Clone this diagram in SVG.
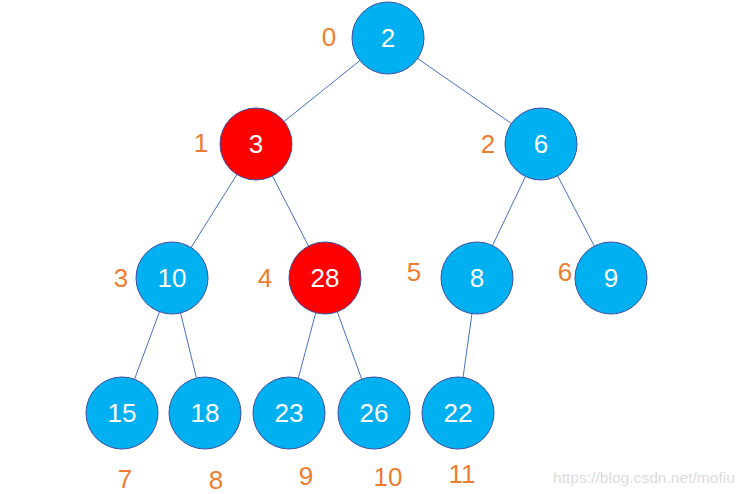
<svg xmlns="http://www.w3.org/2000/svg" width="744" height="494" viewBox="0 0 744 494">
<style>
.edge{stroke:#4472C4;stroke-width:1;fill:none}
.n circle{fill:#00B0F0;stroke:#3F4FA0;stroke-width:1}
.n.red circle{fill:#FF0000}
.n text{fill:#FFFFFF;font-family:"Liberation Sans",Arial,sans-serif;font-size:26px;text-anchor:middle}
.idx{fill:#ED7D31;font-family:"Liberation Sans",Arial,sans-serif;font-size:26px;text-anchor:middle}
.wm{fill:#DCDCDC;font-family:"Liberation Sans",Arial,sans-serif;font-size:15px}
</style>
<rect width="744" height="494" fill="#FFFFFF"/>
<g id="connectors">
<line class="edge" x1="388" y1="38" x2="256" y2="144"/>
<line class="edge" x1="388" y1="38" x2="541" y2="144"/>
<line class="edge" x1="256" y1="144" x2="172" y2="278"/>
<line class="edge" x1="256" y1="144" x2="325" y2="278"/>
<line class="edge" x1="541" y1="144" x2="477" y2="278"/>
<line class="edge" x1="541" y1="144" x2="611" y2="278"/>
<line class="edge" x1="172" y1="278" x2="122" y2="413"/>
<line class="edge" x1="172" y1="278" x2="205" y2="413"/>
<line class="edge" x1="325" y1="278" x2="289" y2="413"/>
<line class="edge" x1="325" y1="278" x2="374" y2="413"/>
<line class="edge" x1="477" y1="278" x2="458" y2="413"/>
</g>
<g id="node0" class="n"><circle cx="388" cy="38" r="36"/><text x="388" y="47">2</text></g>
<g id="node1" class="n red"><circle cx="256" cy="144" r="36"/><text x="256" y="153">3</text></g>
<g id="node2" class="n"><circle cx="541" cy="144" r="36"/><text x="541" y="153">6</text></g>
<g id="node3" class="n"><circle cx="172" cy="278" r="36"/><text x="172" y="287">10</text></g>
<g id="node4" class="n red"><circle cx="325" cy="278" r="36"/><text x="325" y="287">28</text></g>
<g id="node5" class="n"><circle cx="477" cy="278" r="36"/><text x="477" y="287">8</text></g>
<g id="node6" class="n"><circle cx="611" cy="278" r="36"/><text x="611" y="287">9</text></g>
<g id="node7" class="n"><circle cx="122" cy="413" r="36"/><text x="122" y="422">15</text></g>
<g id="node8" class="n"><circle cx="205" cy="413" r="36"/><text x="205" y="422">18</text></g>
<g id="node9" class="n"><circle cx="289" cy="413" r="36"/><text x="289" y="422">23</text></g>
<g id="node10" class="n"><circle cx="374" cy="413" r="36"/><text x="374" y="422">26</text></g>
<g id="node11" class="n"><circle cx="458" cy="413" r="36"/><text x="458" y="422">22</text></g>
<g id="indices">
<text class="idx" x="329" y="46">0</text>
<text class="idx" x="201" y="152">1</text>
<text class="idx" x="488" y="153">2</text>
<text class="idx" x="121" y="287">3</text>
<text class="idx" x="265" y="287">4</text>
<text class="idx" x="414" y="281">5</text>
<text class="idx" x="565" y="281">6</text>
<text class="idx" x="125" y="488">7</text>
<text class="idx" x="216" y="489">8</text>
<text class="idx" x="306" y="485">9</text>
<text class="idx" x="388" y="486">10</text>
<text class="idx" x="462" y="483">11</text>
</g>
<text class="wm" x="553" y="483" textLength="182" lengthAdjust="spacingAndGlyphs">https://blog.csdn.net/mofiu</text>
</svg>
